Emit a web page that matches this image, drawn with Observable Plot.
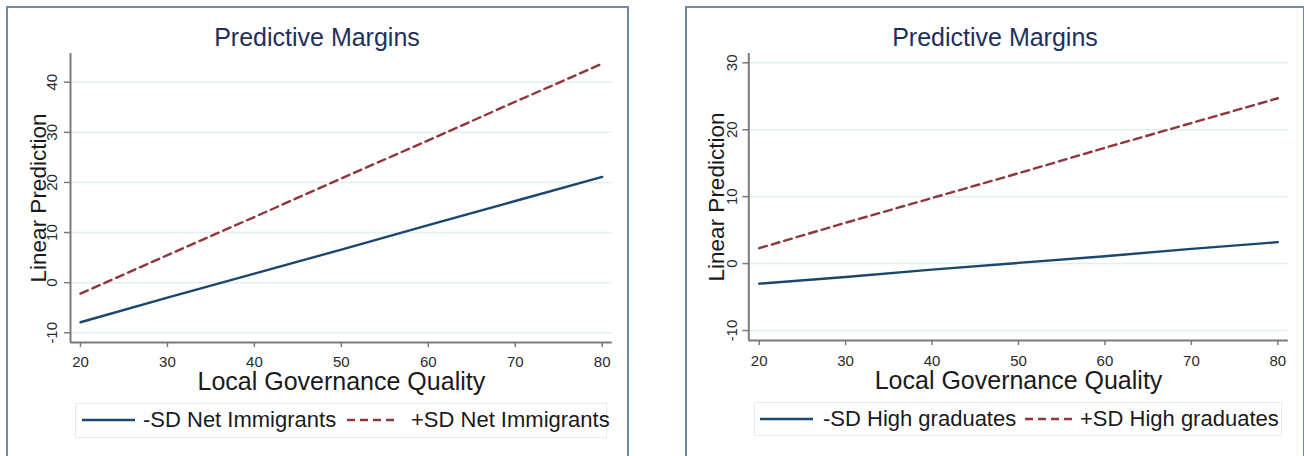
<!DOCTYPE html>
<html>
<head>
<meta charset="utf-8">
<script src="https://cdn.jsdelivr.net/npm/d3@7"></script>
<script src="https://cdn.jsdelivr.net/npm/@observablehq/plot@0.6"></script>
<style>
  html, body { margin: 0; padding: 0; background: #fff; }
  #root { position: relative; width: 1304px; height: 456px; overflow: hidden; background: #fff; font-family: "Liberation Sans", Arial, sans-serif; }
  .frame { position: absolute; border: 2px solid #7189a6; box-sizing: border-box; }
  .title { position: absolute; text-align: center; font-size: 25px; line-height: 25px; color: #1f2f5c; white-space: nowrap; }
  .legbox { position: absolute; border: 1px solid #e4ecee; box-sizing: border-box; background: #fff; }
  .legtext { position: absolute; font-size: 22px; line-height: 22px; color: #1a1a1a; white-space: nowrap; }
  .sw { position: absolute; }
  svg.plot { position: absolute; top: 0; }
</style>
</head>
<body>
<div id="root"></div>
<script>
// ---------------- data ----------------
const quality = [20, 30, 40, 50, 60, 70, 80];
// Panel A: Net Immigrants
const netImmLow  = [-7.9, -3.0, 1.8, 6.6, 11.5, 16.3, 21.1];
const netImmHigh = [-2.2, 5.5, 13.1, 20.8, 28.4, 36.1, 43.7];
// Panel B: High graduates
const gradLow  = [-3.0, -2.0, -0.9, 0.1, 1.1, 2.2, 3.2];
const gradHigh = [2.3, 6.1, 9.8, 13.5, 17.3, 21.0, 24.7];

const xTicks = [20, 30, 40, 50, 60, 70, 80];
const yTicksA = [-10, 0, 10, 20, 30, 40];
const yTicksB = [-10, 0, 10, 20, 30];

const titleText = "Predictive Margins";
const xLabel = "Local Governance Quality";
const yLabel = "Linear Prediction";
const legendA = ["-SD Net Immigrants", "+SD Net Immigrants"];
const legendB = ["-SD High graduates", "+SD High graduates"];

// ---------------- styles ----------------
const NAVY = "#1a476f", MAROON = "#90353b";
const DASH = "8,5";
const LW = 2.4;
const AXIS = "#7a7a7a";

const root = document.getElementById("root");

function panel(cfg) {
  const {svgLeft, width, mL, mR, mT, mB, xDom, yDom, low, high, yTicks, ydx, xdy, ylabDx, xlabDy} = cfg;
  const lowRows = quality.map((q, i) => ({x: q, y: low[i]}));
  const highRows = quality.map((q, i) => ({x: q, y: high[i]}));
  const chart = Plot.plot({
    width, height: 456,
    marginLeft: mL, marginRight: mR, marginTop: mT, marginBottom: mB,
    x: {type: "linear", domain: xDom, axis: null},
    y: {type: "linear", domain: yDom, axis: null},
    style: {fontFamily: "Liberation Sans, Arial, sans-serif", background: "transparent"},
    marks: [
      Plot.gridY(yTicks, {stroke: "#e3eef1", strokeOpacity: 1, strokeWidth: 1.5}),
      Plot.axisY(yTicks, {anchor: "left", label: null, tickSize: 6, tickFormat: () => "", stroke: AXIS, strokeWidth: 1.5}),
      Plot.axisX(xTicks, {anchor: "bottom", label: null, tickSize: 5, tickFormat: () => "", stroke: AXIS, strokeWidth: 1.5}),
      Plot.ruleX([xDom[0]], {stroke: AXIS, strokeWidth: 2}),
      Plot.ruleY([yDom[0]], {stroke: AXIS, strokeWidth: 2}),
      Plot.text(yTicks, {x: () => xDom[0], y: d => d, text: d => String(d), rotate: -90, dx: ydx, textAnchor: "middle", lineAnchor: "middle", fontSize: 15, fill: "#2a2a2a"}),
      Plot.text(xTicks, {x: d => d, y: () => yDom[0], text: d => String(d), dy: xdy, textAnchor: "middle", lineAnchor: "top", fontSize: 15, fill: "#2a2a2a"}),
      Plot.line(lowRows, {x: "x", y: "y", stroke: NAVY, strokeWidth: LW}),
      Plot.line(highRows, {x: "x", y: "y", stroke: MAROON, strokeWidth: LW, strokeDasharray: DASH}),
      Plot.text([yLabel], {frameAnchor: "left", rotate: -90, dx: ylabDx, textAnchor: "middle", lineAnchor: "bottom", fontSize: 22.5, fill: "#1a1a1a"}),
      Plot.text([xLabel], {frameAnchor: "bottom", dy: xlabDy, textAnchor: "middle", lineAnchor: "bottom", fontSize: 25, fill: "#1a1a1a"})
    ]
  });
  chart.classList.add("plot");
  chart.style.left = svgLeft + "px";
  root.appendChild(chart);
}

function frame(l, t, w, h) {
  const d = document.createElement("div");
  d.className = "frame";
  Object.assign(d.style, {left: l + "px", top: t + "px", width: w + "px", height: h + "px"});
  root.appendChild(d);
}
function title(cx, top) {
  const d = document.createElement("div");
  d.className = "title";
  d.textContent = titleText;
  Object.assign(d.style, {left: (cx - 200) + "px", width: "400px", top: top + "px"});
  root.appendChild(d);
}
function legend(box, items) {
  const b = document.createElement("div");
  b.className = "legbox";
  Object.assign(b.style, {left: box[0] + "px", top: box[1] + "px", width: (box[2] - box[0]) + "px", height: (box[3] - box[1]) + "px"});
  root.appendChild(b);
  items.forEach(it => {
    const ns = "http://www.w3.org/2000/svg";
    const s = document.createElementNS(ns, "svg");
    s.setAttribute("class", "sw");
    s.setAttribute("width", it.x1 - it.x0);
    s.setAttribute("height", 6);
    s.style.left = it.x0 + "px";
    s.style.top = (it.y - 3) + "px";
    const ln = document.createElementNS(ns, "line");
    ln.setAttribute("x1", 0); ln.setAttribute("x2", it.x1 - it.x0);
    ln.setAttribute("y1", 3); ln.setAttribute("y2", 3);
    ln.setAttribute("stroke", it.color); ln.setAttribute("stroke-width", LW);
    if (it.dash) ln.setAttribute("stroke-dasharray", it.dash);
    s.appendChild(ln);
    root.appendChild(s);
    const t = document.createElement("div");
    t.className = "legtext";
    t.textContent = it.text;
    Object.assign(t.style, {left: it.tx + "px", top: (it.baseline - 19) + "px"});
    root.appendChild(t);
  });
}

// Panel A
frame(6, 6, 623, 470);
panel({svgLeft: 0, width: 640, mL: 70, mR: 28.3, mT: 53, mB: 114,
  xDom: [18.85, 81.15], yDom: [-11.94, 45.73],
  low: netImmLow, high: netImmHigh, yTicks: yTicksA,
  ydx: -18, xdy: 14, ylabDx: -25, xlabDy: 47});
title(317, 25);
legend([75, 403, 607, 438], [
  {x0: 82, x1: 135, y: 420, color: NAVY, text: legendA[0], tx: 143, baseline: 428},
  {x0: 347, x1: 398, y: 420, color: MAROON, dash: DASH, text: legendA[1], tx: 411, baseline: 428}
]);

// Panel B
frame(685, 6, 620, 470);
panel({svgLeft: 660, width: 644, mL: 88.3, mR: 16.3, mT: 53, mB: 116,
  xDom: [18.8, 81.2], yDom: [-11.49, 31.39],
  low: gradLow, high: gradHigh, yTicks: yTicksB,
  ydx: -17, xdy: 15, ylabDx: -25, xlabDy: 48});
title(995, 25);
legend([754, 402, 1282, 436], [
  {x0: 760, x1: 813, y: 419, color: NAVY, text: legendB[0], tx: 823, baseline: 427},
  {x0: 1025, x1: 1075, y: 419, color: MAROON, dash: DASH, text: legendB[1], tx: 1080, baseline: 427}
]);
</script>
</body>
</html>
